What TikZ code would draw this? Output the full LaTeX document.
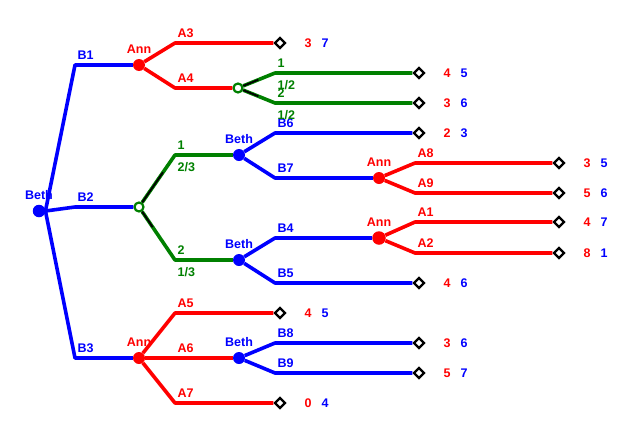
\documentclass[tikz,border=0pt]{standalone}
\usepackage{fontspec}
\setmainfont{Liberation Sans}
\usetikzlibrary{shapes.geometric,calc}
\definecolor{gg}{RGB}{0,128,0}
\tikzset{
  edge/.style={line width=3.6pt, line join=round},
  bl/.style={edge, blue},
  rd/.style={edge, red},
  gr/.style={edge, gg},
  prob/.style={black, line width=1.8pt},
  dec/.style={circle, fill, inner sep=0pt, minimum size=12pt},
  chance/.style={circle, draw=gg, fill=white, line width=2.2pt, inner sep=0pt, minimum size=9pt},
  term/.style={diamond, draw=black, fill=white, line width=2.3pt, inner sep=0pt, minimum size=11pt},
  lab/.style={font=\bfseries\fontsize{12.5}{14}\selectfont, inner sep=0pt},
  pr/.style={lab, anchor=center},
}
\newcommand\pay[3]{%
  \node[pr,red] (p#1r) at ([xshift=28pt]#1) {#2};
  \node[pr,blue] (p#1b) at ([xshift=45pt]#1) {#3};}
\newcommand\blab[4]{\node[lab,#2,anchor=base west] (l#1) at ([xshift=2.5pt,yshift=6pt]#3) {#4};}
\newcommand\plab[4]{\node[lab,#2,anchor=north west] (l#1) at ([xshift=2.5pt,yshift=-7pt]#3) {#4};}
\newcommand\nlab[3]{\node[lab,#2,anchor=base] (n#1) at ([yshift=12pt]#1.center) {#3};}
\begin{document}
\begin{tikzpicture}[x=1pt,y=-1pt]
\useasboundingbox (0,0) rectangle (629,442);
% corners
\coordinate (b1c) at (75,65);
\coordinate (b2c) at (75,207);
\coordinate (b3c) at (75,358);
\coordinate (a3c) at (175,43);
\coordinate (a4c) at (175,88);
\coordinate (c2u) at (275,73);
\coordinate (c2d) at (275,103);
\coordinate (c1u) at (175,155);
\coordinate (c1d) at (175,260);
\coordinate (b6c) at (275,133);
\coordinate (b7c) at (275,178);
\coordinate (a8c) at (415,163);
\coordinate (a9c) at (415,193);
\coordinate (b4c) at (275,238);
\coordinate (b5c) at (275,283);
\coordinate (a1c) at (415,222);
\coordinate (a2c) at (415,253);
\coordinate (a5c) at (175,313);
\coordinate (a6c) at (175,358);
\coordinate (a7c) at (175,403);
\coordinate (b8c) at (275,343);
\coordinate (b9c) at (275,373);
% decision / chance nodes
\node[dec,blue,minimum size=12.5pt] (root) at (39,211) {};
\node[dec,red] (ann1) at (139,65) {};
\node[chance] (ch1) at (139,207) {};
\node[dec,red] (ann2) at (139,358) {};
\node[chance] (ch2) at (238,88) {};
\node[dec,blue] (beth1) at (239,155) {};
\node[dec,blue] (beth2) at (239,260) {};
\node[dec,blue] (beth3) at (239,358) {};
\node[dec,red] (ann3) at (379,178) {};
\node[dec,red,minimum size=13.5pt] (ann4) at (379,238) {};
% terminals
\node[term] (t1) at (280,43) {};
\node[term] (t2) at (419,73) {};
\node[term] (t3) at (419,103) {};
\node[term] (t4) at (419,133) {};
\node[term] (t5) at (559,163) {};
\node[term] (t6) at (559,193) {};
\node[term] (t7) at (559,222) {};
\node[term] (t8) at (559,253) {};
\node[term] (t9) at (419,283) {};
\node[term] (t10) at (280,313) {};
\node[term] (t11) at (419,343) {};
\node[term] (t12) at (419,373) {};
\node[term] (t13) at (280,403) {};
% edges
\draw[bl] (root.east) -- (b1c) -- (ann1);
\draw[bl] (root.east) -- (b2c) -- (ch1);
\draw[bl] (root.east) -- (b3c) -- (ann2);
\draw[rd] (ann1) -- (a3c) -- (t1);
\draw[rd] (ann1) -- (a4c) -- (ch2);
\draw[gr] (ch2) -- (c2u) -- (t2);
\draw[gr] (ch2) -- (c2d) -- (t3);
\draw[gr] (ch1) -- (c1u) -- (beth1);
\draw[gr] (ch1) -- (c1d) -- (beth2);
\draw[bl] (beth1) -- (b6c) -- (t4);
\draw[bl] (beth1) -- (b7c) -- (ann3);
\draw[rd] (ann3) -- (a8c) -- (t5);
\draw[rd] (ann3) -- (a9c) -- (t6);
\draw[bl] (beth2) -- (b4c) -- (ann4);
\draw[bl] (beth2) -- (b5c) -- (t9);
\draw[rd] (ann4) -- (a1c) -- (t7);
\draw[rd] (ann4) -- (a2c) -- (t8);
\draw[rd] (ann2) -- (a5c) -- (t10);
\draw[rd] (ann2) -- (a6c) -- (beth3);
\draw[rd] (ann2) -- (a7c) -- (t13);
\draw[bl] (beth3) -- (b8c) -- (t11);
\draw[bl] (beth3) -- (b9c) -- (t12);
% probability marks
\coordinate (m1u) at ($(ch1.center)!0.667!(c1u)$);
\coordinate (m1d) at ($(ch1.center)!0.38!(c1d)$);
\coordinate (m2u) at ($(ch2.center)!0.55!(c2u)$);
\coordinate (m2d) at ($(ch2.center)!0.55!(c2d)$);
\draw[prob] (ch1) -- (m1u);
\draw[prob] (ch1) -- (m1d);
\draw[prob] (ch2) -- (m2u);
\draw[prob] (ch2) -- (m2d);
% node labels
\nlab{root}{blue}{Beth}
\nlab{ann1}{red}{Ann}
\nlab{ann2}{red}{Ann}
\nlab{beth1}{blue}{Beth}
\nlab{beth2}{blue}{Beth}
\nlab{beth3}{blue}{Beth}
\nlab{ann3}{red}{Ann}
\nlab{ann4}{red}{Ann}
% branch labels
\blab{B1}{blue}{b1c}{B1}
\blab{B2}{blue}{b2c}{B2}
\blab{B3}{blue}{b3c}{B3}
\blab{A3}{red}{a3c}{A3}
\blab{A4}{red}{a4c}{A4}
\blab{A5}{red}{a5c}{A5}
\blab{A6}{red}{a6c}{A6}
\blab{A7}{red}{a7c}{A7}
\blab{B6}{blue}{b6c}{B6}
\blab{B7}{blue}{b7c}{B7}
\blab{B4}{blue}{b4c}{B4}
\blab{B5}{blue}{b5c}{B5}
\blab{B8}{blue}{b8c}{B8}
\blab{B9}{blue}{b9c}{B9}
\blab{A8}{red}{a8c}{A8}
\blab{A9}{red}{a9c}{A9}
\blab{A1}{red}{a1c}{A1}
\blab{A2}{red}{a2c}{A2}
\blab{C2u}{gg}{c2u}{1}
\blab{C2d}{gg}{c2d}{2}
\blab{C1u}{gg}{c1u}{1}
\blab{C1d}{gg}{c1d}{2}
\plab{P2u}{gg}{c2u}{1/2}
\plab{P2d}{gg}{c2d}{1/2}
\plab{P1u}{gg}{c1u}{2/3}
\plab{P1d}{gg}{c1d}{1/3}
% payoffs
\pay{t1}{3}{7}
\pay{t2}{4}{5}
\pay{t3}{3}{6}
\pay{t4}{2}{3}
\pay{t5}{3}{5}
\pay{t6}{5}{6}
\pay{t7}{4}{7}
\pay{t8}{8}{1}
\pay{t9}{4}{6}
\pay{t10}{4}{5}
\pay{t11}{3}{6}
\pay{t12}{5}{7}
\pay{t13}{0}{4}
\end{tikzpicture}
\end{document}
